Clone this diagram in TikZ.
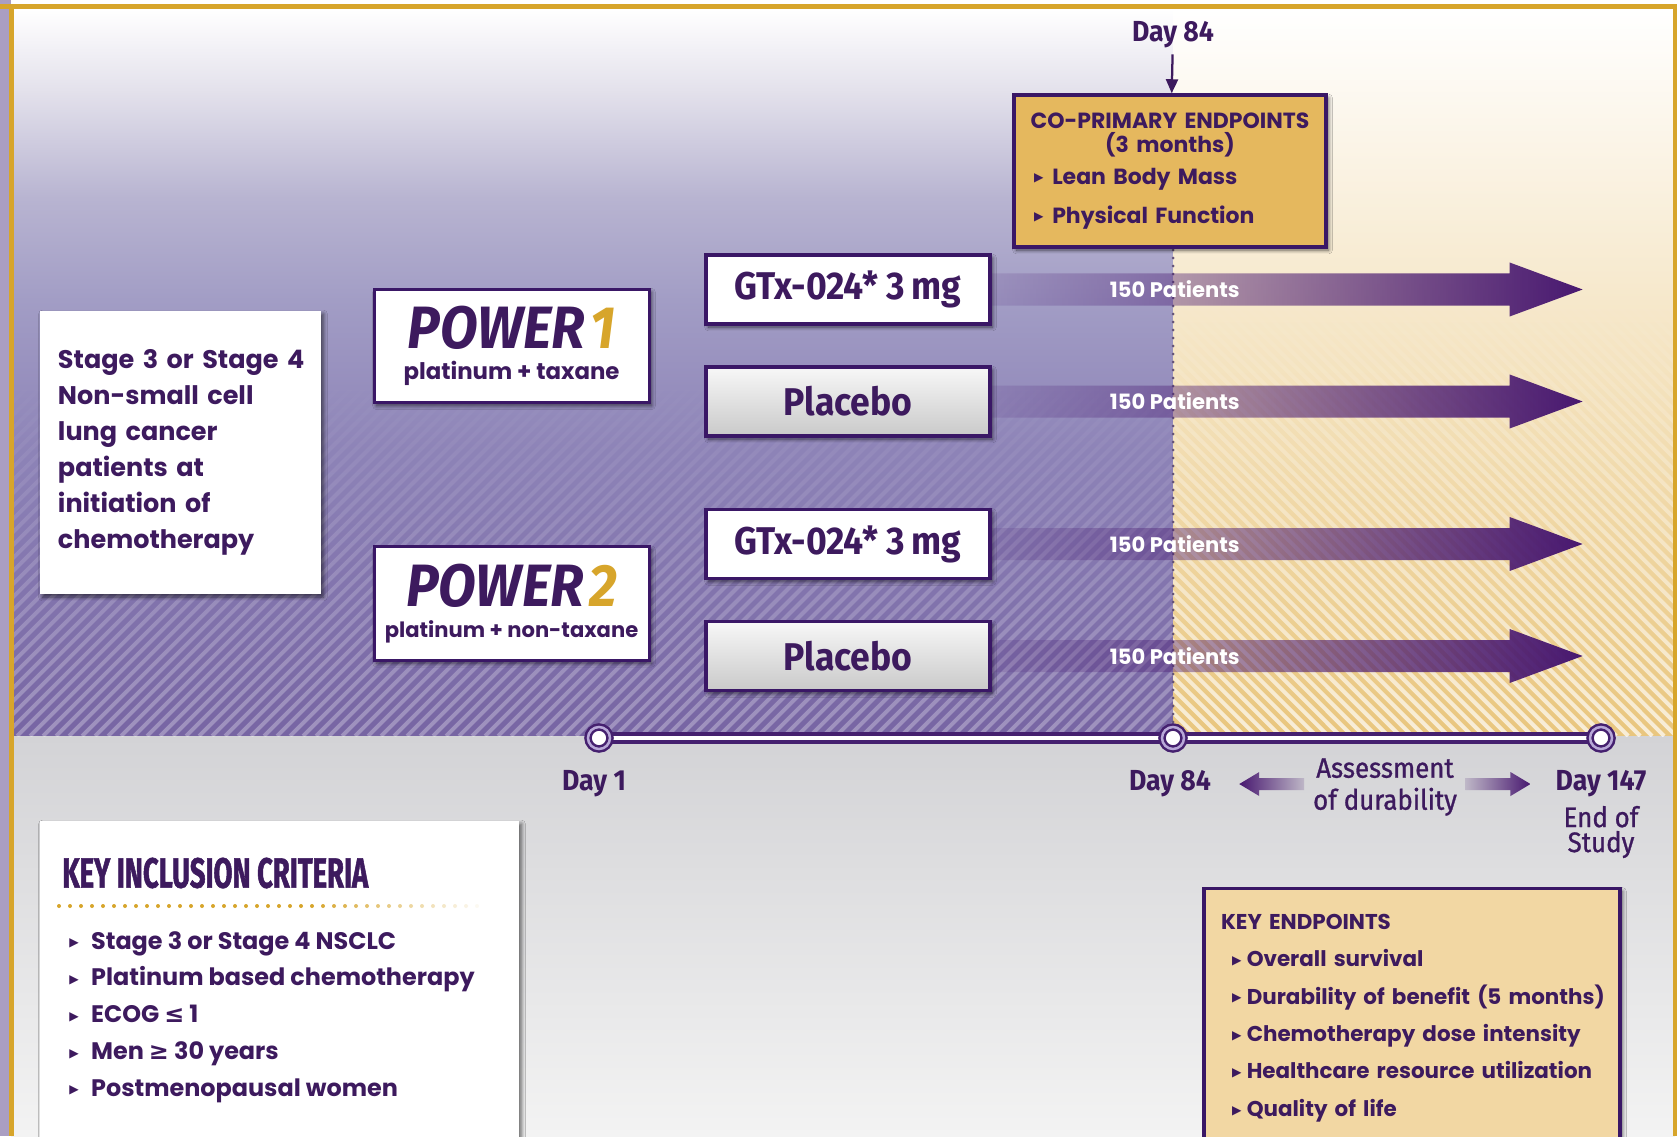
\documentclass[tikz,border=0pt]{standalone}
\usepackage{fontspec}
\setmainfont{Poppins}
\newfontfamily\narrowfont{Fira Sans}[FakeStretch=0.92]
\newfontfamily\medfont{Fira Sans}[FakeStretch=0.92,FakeBold=1]
\newfontfamily\condfont{Fira Sans}[FakeStretch=0.65,FakeBold=1.2]
\newfontfamily\symfont{DejaVu Sans}
\usetikzlibrary{calc,arrows.meta,shadows.blur,fadings}

\tikzfading[name=armfade, left color=transparent!88, middle color=transparent!12, right color=transparent!0]
\tikzfading[name=stripfade, top color=transparent!100, bottom color=transparent!0]

\definecolor{pbot}{HTML}{7765A3}
\definecolor{pm1}{HTML}{8D83B7}
\definecolor{pm2}{HTML}{A29DC5}
\definecolor{pm3}{HTML}{B8B4D1}
\definecolor{pm4}{HTML}{E4E2EC}
\pgfdeclareverticalshading{purpbg}{100bp}{color(0bp)=(pbot); color(25bp)=(pbot); color(44.5bp)=(pm1); color(55bp)=(pm2); color(62bp)=(pm3); color(69.5bp)=(pm4); color(75bp)=(white); color(100bp)=(white)}

\newcommand\tri{{\symfont\fontsize{7}{7}\selectfont\raisebox{1.3pt}{▶}}}

\begin{document}
\begin{tikzpicture}[x=0.2mm,y=-0.2mm]
					\definecolor{dpurple}{HTML}{3D1A5E}
					\definecolor{bpurple}{HTML}{3A1766}
					\definecolor{apurple}{HTML}{481870}
					\definecolor{tpurple}{HTML}{45206F}
					\definecolor{lpurple}{HTML}{B8A8D8}
					\definecolor{gmid}{HTML}{F5E8CF}
					\definecolor{gbot}{HTML}{E9C67E}
					\definecolor{pgold}{HTML}{D7A52B}
					\definecolor{cpgold}{HTML}{E5B85E}
					\definecolor{kgold}{HTML}{F2D7A3}
					\definecolor{gtop}{HTML}{D3D3D6}
					\definecolor{gbtm}{HTML}{F3F3F3}
					\tikzset{
						softshadow/.style={
							blur shadow={shadow blur steps=8, shadow xshift=0.5mm, shadow yshift=-0.6mm, shadow opacity=60}
						},
						armbox/.style={
							draw=bpurple,
							line width=0.7mm,
							fill=white,
							minimum width=56.8mm,
							minimum height=13.8mm,
							inner sep=0pt,
							text=dpurple,
							font=\narrowfont\bfseries\fontsize{22}{22}\selectfont,
							softshadow
						},
						placbox/.style={
							armbox,
							top color=gray!6,
							bottom color=gray!42
						},
						powbox/.style={
							draw=bpurple,
							line width=0.6mm,
							fill=white,
							minimum width=55mm,
							minimum height=22.7mm,
							inner sep=0pt,
							align=center,
							text=dpurple,
							font=\bfseries\fontsize{13}{14}\selectfont,
							softshadow
						},
						stagebox/.style={
							fill=white,
							minimum width=56.2mm,
							minimum height=56.6mm,
							text width=49mm,
							inner xsep=3.6mm,
							inner ysep=0pt,
							align=left,
							text=dpurple,
							font=\bfseries\fontsize{14.5}{20.5}\selectfont,
							softshadow
						},
						cpbox/.style={
							draw=bpurple,
							line width=0.7mm,
							fill=cpgold,
							minimum width=62.4mm,
							minimum height=30.4mm,
							text width=54.4mm,
							inner xsep=4mm,
							inner ysep=0pt,
							align=left,
							text=dpurple,
							font=\bfseries\fontsize{12.5}{13.3}\selectfont,
							softshadow
						},
						kpbox/.style={
							draw=bpurple,
							line width=0.7mm,
							fill=kgold,
							minimum width=83.2mm,
							minimum height=51.8mm,
							text width=76.4mm,
							inner xsep=3.4mm,
							inner ysep=0pt,
							align=left,
							text=dpurple,
							font=\bfseries\fontsize{12.2}{21.3}\selectfont,
							softshadow
						},
						whbox/.style={
							fill=white,
							inner sep=0pt,
							softshadow
						},
						pattxt/.style={
							text=white,
							font=\bfseries\fontsize{12}{12}\selectfont
						},
						daylbl/.style={
							text=dpurple,
							font=\narrowfont\bfseries\fontsize{16.5}{16.5}\selectfont
						},
						tdot/.style={
							circle,
							minimum size=4.4mm,
							inner sep=0pt,
							fill=white,
							draw=tpurple,
							line width=0.5mm,
							double=lpurple,
							double distance=0.5mm
						}
					}
					
					\useasboundingbox (0,0) rectangle (1677,1136);
					\clip (0,0) rectangle (1677,1136);
					
					% ======= Nền (tím trái / vàng phải / xám dưới) =======
					\fill[white] (0,0) rectangle (1677,1136);
					\fill[gray!25!lpurple] (0,0) rectangle (11,1136);
					\shade[shading=purpbg] (11,9) rectangle (1173,736);
					\shade[top color=white, middle color=gmid, bottom color=gbot] (1173,9) rectangle (1675,736);
					\shade[top color=gtop, bottom color=gbtm] (11,736) rectangle (1675,1136);
					
					\begin{scope}
						\clip (11,380) rectangle (1173,736);
						\draw[white, opacity=0.3, line width=0.8mm, path fading=stripfade]
							foreach \x in {-360,-347,...,1173} {(\x,736) -- ++(356,-356)};
					\end{scope}
					\begin{scope}
						\clip (1173,300) rectangle (1675,736);
						\draw[white, opacity=0.7, line width=0.8mm, path fading=stripfade]
							foreach \x in {737,749,...,1675} {(\x,300) -- ++(436,436)};
					\end{scope}
					
					\draw[gray!55!tpurple, line width=0.6mm, line cap=round, dash pattern=on 0pt off 1.6mm] (1173,250) -- (1173,732);
					
					% ======= Khung vàng =======
					\draw[pgold, line width=1mm] (0,7) -- (1677,7);
					\draw[pgold, line width=1mm] (11,7) -- (11,1136);
					\draw[pgold, line width=1mm] (1675,7) -- (1675,1136);
					
					% ======= Hộp bệnh nhân và POWER =======
					\node[stagebox] (stage) at (180.5,452.5) {\mbox{Stage 3 or Stage 4}\\Non-small cell\\lung cancer\\patients at\\initiation of\\chemotherapy};
					
					\node[powbox] (pw1) at (511.5,346) {{\narrowfont\itshape\fontsize{34}{34}\selectfont POWER\kern3pt\textcolor{pgold}{1}}\\[4pt]platinum + taxane};
					\node[powbox] (pw2) at (511.5,603.5) {{\narrowfont\itshape\fontsize{34}{34}\selectfont POWER\kern3pt\textcolor{pgold}{2}}\\[4pt]{\fontsize{12}{14}\selectfont platinum + non-taxane}};
					
					% ======= Các nhánh điều trị =======
					\node[armbox] (g1) at (848,289.5) {GTx-024* 3\,mg};
					\node[placbox] (p1) at (848,401.5) {Placebo};
					\node[armbox] (g2) at (848,544) {GTx-024* 3\,mg};
					\node[placbox] (p2) at (848,656) {Placebo};
					
					\foreach \b in {g1,p1,g2,p2}{
						\fill[apurple, path fading=armfade] (\b.east) ++(0,-16) -- ++(518,0) -- ++(0,-11) -- ++(73,27) -- ++(-73,27) -- ++(0,-11) -- ++(-518,0) -- cycle;
						\node[pattxt] (n\b) at ($(\b.east)+(183,0)$) {150 Patients};
					}
					
					% ======= Co-primary endpoints =======
					\node[daylbl] (d84top) at (1173,35) {Day 84};
					\node[cpbox] (coprim) at (1170,171) {\makebox[\hsize]{CO-PRIMARY ENDPOINTS}\\\makebox[\hsize]{(3 months)}\\[4.9pt]\tri\hspace{5pt}Lean Body Mass\\[7.8pt]\tri\hspace{5pt}Physical Function};
					\draw[dpurple, line width=0.45mm, -{Triangle[length=2.8mm,width=2.4mm]}] (d84top) -- (coprim);
					
					% ======= Trục thời gian =======
					\coordinate (c1) at (599,738);
					\coordinate (c84) at (1173,738);
					\coordinate (c147) at (1601,738);
					\draw[tpurple, line width=2.4mm] (c1) -- (c147);
					\draw[white, line width=0.8mm] (c1) -- (c147);
					\node[tdot] (t1) at (c1) {};
					\node[tdot] (t84) at (c84) {};
					\node[tdot] (t147) at (c147) {};
					
					\node[daylbl] (dl1) at (594,784) {Day 1};
					\node[daylbl] (dl84) at (1170,784) {Day 84};
					\node[daylbl] (dl147) at (1601,784) {Day 147};
					\node[text=dpurple, align=center, font=\medfont\fontsize{16}{14.2}\selectfont] (eos) at (1601,832) {End of\\Study};
					\node[text=dpurple, align=center, font=\medfont\fontsize{16}{18.2}\selectfont] (assess) at (1385,787) {Assessment\\of durability};
					
					\shade[left color=apurple, right color=apurple!15!gtop] ($(dl84.east)+(22,0)$) -- ++(20,-12) -- ++(0,6) -- ++(45,0) -- ++(0,12) -- ++(-45,0) -- ++(0,6) -- cycle;
					\shade[left color=apurple!15!gtop, right color=apurple] ($(dl147.west)+(-19,0)$) -- ++(-20,-12) -- ++(0,6) -- ++(-45,0) -- ++(0,12) -- ++(45,0) -- ++(0,6) -- cycle;
					
					% ======= Key inclusion criteria =======
					\node[whbox, minimum width=95.8mm, minimum height=65.8mm] (incbox) at (279.5,985.5) {};
					\node[anchor=west, inner sep=0pt, text=dpurple, font=\condfont\bfseries\fontsize{24}{24}\selectfont] (inct) at (62,873) {KEY INCLUSION CRITERIA};
					\foreach \i in {0,...,38}{
						\pgfmathsetmacro\op{min(1,(39-\i)/16)}
						\fill[pgold, opacity=\op] (59+\i*11,906) circle (2);
					}
					\node[anchor=north west, inner sep=0pt, align=left, text=dpurple, font=\bfseries\fontsize{13.6}{20.9}\selectfont] (inci) at (69,931)
						{\tri\hspace{7pt}Stage 3 or Stage 4 NSCLC\\
						 \tri\hspace{7pt}Platinum based chemotherapy\\
						 \tri\hspace{7pt}ECOG {\symfont\bfseries ≤} 1\\
						 \tri\hspace{7pt}Men {\symfont\bfseries ≥} 30 years\\
						 \tri\hspace{7pt}Postmenopausal women};
					
					% ======= Key endpoints =======
					\node[kpbox] (keyend) at (1412,1018)
						{\mbox{KEY ENDPOINTS}\\
						 \mbox{\hspace*{2.2mm}\tri\hspace{3pt}Overall survival}\\
						 \mbox{\hspace*{2.2mm}\tri\hspace{3pt}Durability of benefit (5 months)}\\
						 \mbox{\hspace*{2.2mm}\tri\hspace{3pt}Chemotherapy dose intensity}\\
						 \mbox{\hspace*{2.2mm}\tri\hspace{3pt}Healthcare resource utilization}\\
						 \mbox{\hspace*{2.2mm}\tri\hspace{3pt}Quality of life}};
				\end{tikzpicture}
\end{document}
